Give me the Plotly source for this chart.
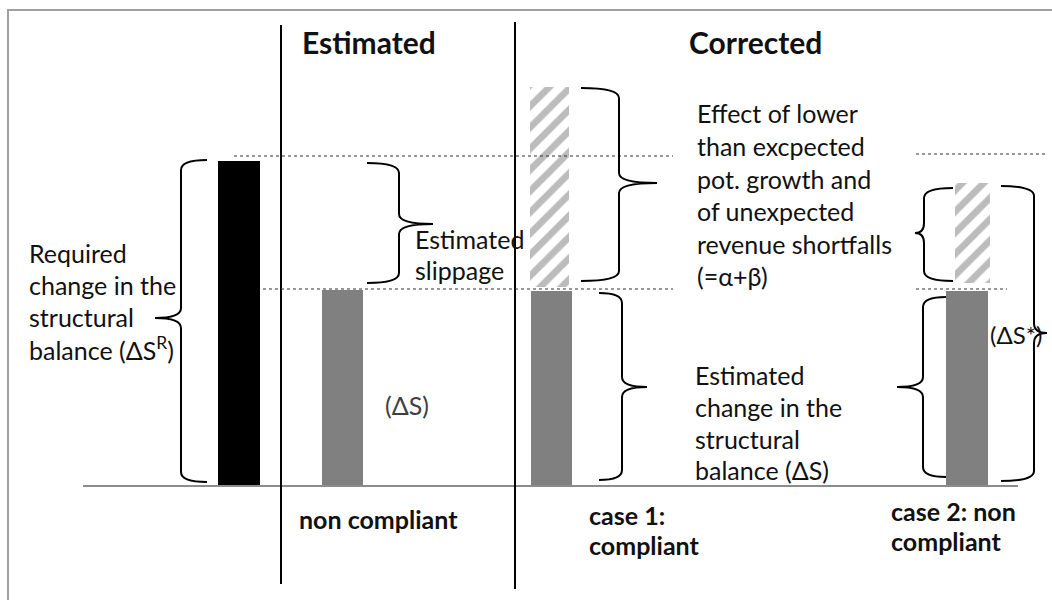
import plotly.graph_objects as go

# ---------------- data (diagram units; 0 = baseline) ----------------
bar_names = ["Required", "Estimated", "Case 1", "Case 2"]
bar_x = [239, 342.5, 551, 967]
bar_widths = [42, 41, 41, 42]
bar_values = [325, 196, 195, 195]          # ΔS^R, ΔS, ΔS, ΔS
bar_colors = ["#000000", "#808080", "#808080", "#808080"]

hatch_x = [549.5, 972.5]
hatch_widths = [39, 35]
hatch_base = [199, 203]
hatch_values = [200, 100]                   # α+β effect (case 1), slippage (case 2)

BASE_PX = 486   # pixel row of baseline
def Y(py):
    return BASE_PX - py

fig = go.Figure()
fig.add_trace(go.Bar(x=bar_x, y=bar_values, width=bar_widths, base=0,
                     marker=dict(color=bar_colors, line=dict(width=0)),
                     hoverinfo="skip", showlegend=False))
fig.add_trace(go.Bar(x=hatch_x, y=hatch_values, width=hatch_widths, base=hatch_base,
                     marker=dict(color="white", line=dict(width=0),
                                 pattern=dict(shape="/", fgcolor="#7a7a7a", bgcolor="white",
                                              size=15, solidity=0.45)),
                     hoverinfo="skip", showlegend=False))

shapes = []
# outer frame
shapes.append(dict(type="line", xref="paper", yref="paper", x0=7/1052, x1=1, y0=1-10/600, y1=1-10/600,
                   line=dict(color="#a0a0a0", width=2)))
shapes.append(dict(type="line", xref="paper", yref="paper", x0=8/1052, x1=8/1052, y0=0, y1=1-10/600,
                   line=dict(color="#a0a0a0", width=2)))
# baseline
shapes.append(dict(type="line", x0=83, x1=1018, y0=0, y1=0, line=dict(color="#8c8c8c", width=2)))
# vertical separators
shapes.append(dict(type="line", x0=281, x1=281, y0=Y(25), y1=Y(584), line=dict(color="black", width=2)))
shapes.append(dict(type="line", x0=515, x1=515, y0=Y(22), y1=Y(589), line=dict(color="black", width=2)))
# dotted guide lines
for x0, x1, py in [(234, 673, 156), (263, 673, 289), (916, 1047, 154), (916, 1007, 289)]:
    shapes.append(dict(type="line", x0=x0, x1=x1, y0=Y(py), y1=Y(py),
                       line=dict(color="#333333", width=1, dash="dot")))

def brace(xv, ytop, ybot, xend, xtip, ymid, r=10):
    yt, yb, ym = Y(ytop), Y(ybot), Y(ymid)
    p = (f"M {xend},{yt} Q {xv},{yt} {xv},{yt - r} "
         f"L {xv},{ym + r} Q {xv},{ym} {xtip},{ym} "
         f"Q {xv},{ym} {xv},{ym - r} "
         f"L {xv},{yb + r} Q {xv},{yb} {xend},{yb}")
    return dict(type="path", path=p, line=dict(color="black", width=2))

for b in [(181, 160, 482, 207, 155, 318),
          (399, 163, 283, 367, 433, 224),
          (619, 88, 281, 581, 657, 183),
          (622, 293, 480, 599, 647, 387),
          (924, 188, 281, 953, 915, 233),
          (923, 297, 477, 946, 897, 387),
          (1034, 186, 481, 1001, 1047, 333)]:
    shapes.append(brace(*b))

FONT = "Lato"
TXT = "#111111"
annotations = []
def label(text, x, baseline, size=25, bold=False, color=TXT):
    annotations.append(dict(text=f"<b>{text}</b>" if bold else text, x=x, y=Y(baseline - 0.3 * size),
                            xanchor="left", yanchor="middle", showarrow=False,
                            font=dict(family=FONT, size=size, color=color)))

label("Estimated", 300, 51, size=30, bold=True)
label("Corrected", 687, 51, size=30, bold=True)
for t, b in zip(["Required", "change in the", "structural", "balance (ΔS<sup>R</sup>)"], [260, 292, 324, 356]):
    label(t, 27, b)
for t, b in zip(["Estimated", "slippage"], [246, 277]):
    label(t, 413, b)
label("(ΔS)", 383, 412, color="#404040")
for t, b in zip(["Effect of lower", "than excpected", "pot. growth and", "of unexpected",
                 "revenue shortfalls", "(=α+β)"], [120, 153, 186, 218, 251, 283]):
    label(t, 695, b)
for t, b in zip(["Estimated", "change in the", "structural", "balance (ΔS)"], [382, 414, 446, 477]):
    label(t, 693, b)
label("(ΔS*)", 988, 342, size=24)
label("non compliant", 297, 526, bold=True)
for t, b in zip(["case 1:", "compliant"], [522, 552]):
    label(t, 587, b, bold=True)
for t, b in zip(["case 2: non", "compliant"], [518, 548]):
    label(t, 889, b, bold=True)

fig.update_layout(
    width=1052, height=600, margin=dict(l=0, r=0, t=0, b=0),
    paper_bgcolor="white", plot_bgcolor="white",
    xaxis=dict(range=[0, 1052], visible=False, fixedrange=True),
    yaxis=dict(range=[Y(600), Y(0)], visible=False, fixedrange=True),
    shapes=shapes, annotations=annotations, barmode="overlay", bargap=0,
)
fig.write_html("out.html", config={"displayModeBar": False},
               post_script="document.body.style.margin='0';document.body.style.overflow='hidden';")
